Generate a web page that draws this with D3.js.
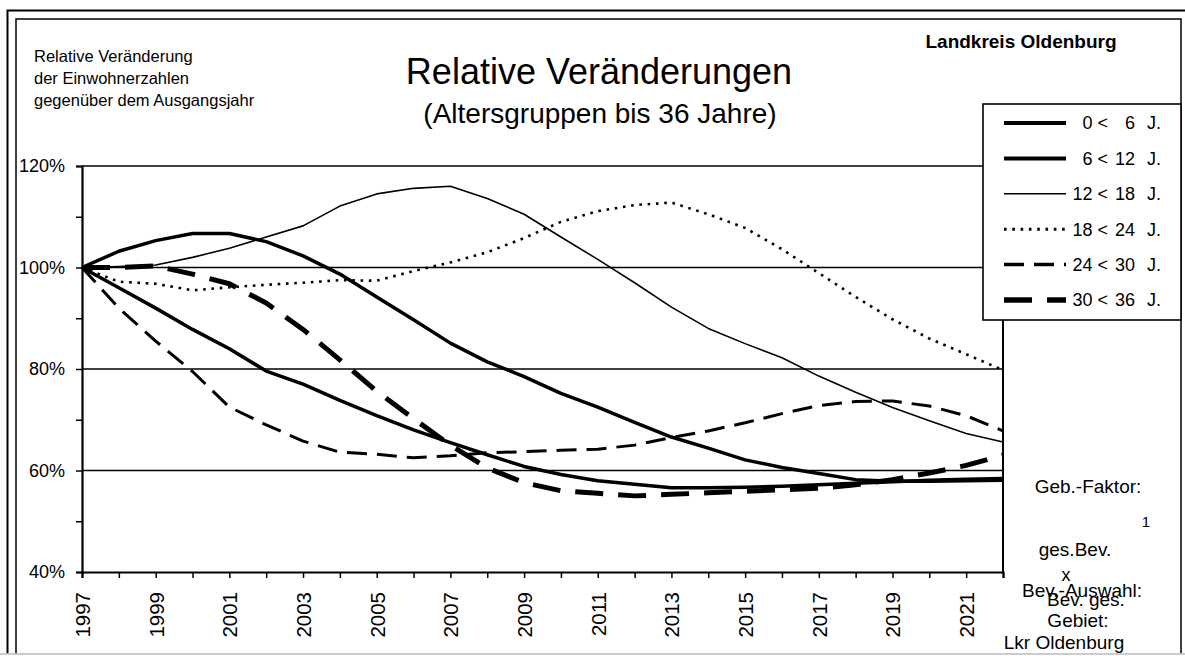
<!DOCTYPE html>
<html>
<head>
<meta charset="utf-8">
<script src="https://cdn.jsdelivr.net/npm/d3@7"></script>
<style>
body { margin: 0; background: #fff; }
text { font-family: "Liberation Sans", Arial, sans-serif; fill: #000; }
</style>
</head>
<body>
<svg width="1185" height="656"></svg>
<script>
// years of the projection
var years = [1997, 1998, 1999, 2000, 2001, 2002, 2003, 2004, 2005, 2006, 2007, 2008, 2009,
             2010, 2011, 2012, 2013, 2014, 2015, 2016, 2017, 2018, 2019, 2020, 2021, 2022];

// relative change in % vs 1997
var age0to6   = [100, 96, 92, 87.8, 84, 79.6, 77, 73.8, 70.8, 68, 65.5, 63.1, 60.8,
                 59.2, 58, 57.3, 56.6, 56.6, 56.7, 56.9, 57.2, 57.5, 57.8, 58.1, 58.3, 58.4];
var age6to12  = [100, 103.2, 105.3, 106.7, 106.7, 105.1, 102.3, 98.7, 94.2, 89.7, 85.1, 81.4, 78.5,
                 75.2, 72.5, 69.5, 66.6, 64.4, 62.1, 60.6, 59.4, 58.2, 57.9, 57.9, 58, 58.1];
var age12to18 = [100, 100.2, 100.5, 102, 103.8, 106, 108.2, 112.1, 114.5, 115.6, 116, 113.6, 110.5,
                 106, 101.6, 97, 92.2, 88, 85, 82.2, 78.6, 75.4, 72.4, 69.8, 67.3, 65.6];
var age18to24 = [100, 97.2, 96.8, 95.5, 96.1, 96.6, 97, 97.5, 97.4, 99.3, 101, 103, 105.8,
                 109, 111.1, 112.3, 112.8, 110.5, 107.8, 103.6, 98.9, 94.2, 89.8, 86, 82.9, 79.8];
var age24to30 = [100, 92, 85.5, 79.5, 72.5, 69, 65.8, 63.6, 63.2, 62.5, 62.9, 63.5, 63.7,
                 64, 64.2, 65, 66.5, 67.8, 69.4, 71.2, 72.8, 73.6, 73.7, 72.7, 70.8, 67.8];
var age30to36 = [100, 100, 100.3, 98.7, 96.8, 93, 87.8, 81.8, 75.6, 70.2, 65, 60.5, 57.6,
                 56, 55.5, 55, 55.3, 55.6, 55.9, 56.2, 56.5, 57.2, 58.2, 59.5, 61, 63];

var groupFrom = [0, 6, 12, 18, 24, 30];
var groupTo   = [6, 12, 18, 24, 30, 36];
var yTicks = [40, 50, 60, 70, 80, 90, 100, 110, 120];
var gridValues = [60, 80, 100, 120];

var series = [age0to6, age6to12, age12to18, age18to24, age24to30, age30to36];
// line look per series (width, dash)
var looks = [
  {w: 3.5, dash: null},
  {w: 3.5, dash: null},
  {w: 1.6, dash: null},
  {w: 2.6, dash: "2.6,5.7"},
  {w: 3, dash: "20,10"},
  {w: 5, dash: "28,15"}
];

var svg = d3.select("svg");
var width = +svg.attr("width"), height = +svg.attr("height");

svg.append("rect").attr("width", width).attr("height", height).attr("fill", "#fff");

// double frame around the chart, cut at right and bottom
svg.append("rect").attr("x", 7.5).attr("y", 10.5).attr("width", 1300).attr("height", 800)
  .attr("fill", "none").attr("stroke", "#000").attr("stroke-width", 2);
svg.append("rect").attr("x", 16).attr("y", 19).attr("width", 1165).attr("height", 800)
  .attr("fill", "none").attr("stroke", "#000").attr("stroke-width", 1.5);

var x = d3.scaleLinear().domain([1997, 2022]).range([82, 1003]);
var y = d3.scaleLinear().domain([40, 120]).range([572, 166]);

// grid lines
svg.append("g").selectAll("line").data(gridValues).enter().append("line")
  .attr("x1", x(1997)).attr("x2", x(2022))
  .attr("y1", function(d) { return y(d); }).attr("y2", function(d) { return y(d); })
  .attr("stroke", "#000").attr("stroke-width", 1.6);

// right border of plot
svg.append("line").attr("x1", x(2022)).attr("x2", x(2022)).attr("y1", y(120)).attr("y2", y(40))
  .attr("stroke", "#000").attr("stroke-width", 2);

// axes
var yAxis = svg.append("g").attr("transform", "translate(" + x(1997) + ",0)")
  .call(d3.axisLeft(y).tickValues(yTicks).tickSizeOuter(0).tickSize(6).tickPadding(11)
    .tickFormat(function(d) { return d % 20 === 0 ? d + "%" : ""; }));
yAxis.select(".domain").attr("stroke-width", 2.2);
yAxis.selectAll(".tick line").attr("stroke-width", 1.5);
yAxis.selectAll("text").attr("font-size", 18).attr("font-family", "Liberation Sans, Arial, sans-serif");

var xAxis = svg.append("g").attr("transform", "translate(0," + y(40) + ")")
  .call(d3.axisBottom(x).tickValues(years).tickSizeOuter(0).tickSize(6)
    .tickFormat(function(d) { return (d - 1997) % 2 === 0 ? d : ""; }));
xAxis.select(".domain").attr("stroke-width", 2.2);
xAxis.selectAll(".tick line").attr("stroke-width", 1.5);
xAxis.selectAll("text")
  .attr("font-size", 20.5).attr("font-family", "Liberation Sans, Arial, sans-serif")
  .attr("transform", "rotate(-90)")
  .attr("text-anchor", "end")
  .attr("x", -20).attr("y", 0).attr("dy", "0.36em");

// lines
var line = d3.line()
  .x(function(d, i) { return x(years[i]); })
  .y(function(d) { return y(d); });

svg.append("g").selectAll("path").data(series).enter().append("path")
  .attr("d", line)
  .attr("fill", "none")
  .attr("stroke", "#000")
  .attr("stroke-linejoin", "round")
  .attr("stroke-width", function(d, i) { return looks[i].w; })
  .attr("stroke-dasharray", function(d, i) { return looks[i].dash; });

// legend
var legend = svg.append("g");
legend.append("rect").attr("x", 983).attr("y", 104).attr("width", 198).attr("height", 216)
  .attr("fill", "#fff").attr("stroke", "#000").attr("stroke-width", 1.6);
var item = legend.selectAll("g.item").data(groupFrom).enter().append("g")
  .attr("class", "item")
  .attr("transform", function(d, i) { return "translate(0," + (123 + i * 35.4) + ")"; });
item.append("line").attr("x1", 1004).attr("x2", 1066).attr("y1", 0).attr("y2", 0)
  .attr("stroke", "#000")
  .attr("stroke-width", function(d, i) { return i === 2 ? 1.4 : looks[i].w + 0.5; })
  .attr("stroke-dasharray", function(d, i) { return looks[i].dash; });
item.append("text").attr("x", 1108).attr("dy", "0.36em").attr("text-anchor", "end")
  .attr("font-size", 18).text(function(d) { return d + " <"; });
item.append("text").attr("x", 1135).attr("dy", "0.36em").attr("text-anchor", "end")
  .attr("font-size", 18).text(function(d, i) { return groupTo[i]; });
item.append("text").attr("x", 1147).attr("dy", "0.36em")
  .attr("font-size", 18).text("J.");

// titles
svg.append("text").attr("x", 599).attr("y", 84).attr("text-anchor", "middle")
  .attr("font-size", 36).text("Relative Veränderungen");
svg.append("text").attr("x", 600).attr("y", 123).attr("text-anchor", "middle")
  .attr("font-size", 28).text("(Altersgruppen bis 36 Jahre)");
svg.append("text").attr("x", 1021).attr("y", 48).attr("text-anchor", "middle")
  .attr("font-size", 19).attr("font-weight", "bold").text("Landkreis Oldenburg");

var note = ["Relative Veränderung", "der Einwohnerzahlen", "gegenüber dem Ausgangsjahr"];
svg.append("g").selectAll("text").data(note).enter().append("text")
  .attr("x", 34).attr("y", function(d, i) { return 62 + i * 22; })
  .attr("font-size", 16.5).text(function(d) { return d; });

// info block bottom right (overlapping labels as in the original)
var info = [
  {t: "Geb.-Faktor:", x: 1088, y: 493, s: 19},
  {t: "1", x: 1146, y: 527, s: 15},
  {t: "ges.Bev.", x: 1075, y: 556, s: 19},
  {t: "x", x: 1066, y: 581, s: 18},
  {t: "Bev.-Auswahl:", x: 1082, y: 597, s: 19},
  {t: "Bev. ges.", x: 1086, y: 606, s: 19},
  {t: "Gebiet:", x: 1078, y: 627, s: 19},
  {t: "Lkr Oldenburg", x: 1064, y: 649, s: 19}
];
svg.append("g").selectAll("text").data(info).enter().append("text")
  .attr("x", function(d) { return d.x; }).attr("y", function(d) { return d.y; })
  .attr("text-anchor", "middle").attr("font-size", function(d) { return d.s; })
  .text(function(d) { return d.t; });

// bottom edge of the window
svg.append("rect").attr("x", 0).attr("y", 653.5).attr("width", width).attr("height", 3).attr("fill", "#fff");
svg.append("line").attr("x1", 0).attr("x2", width).attr("y1", 654).attr("y2", 654)
  .attr("stroke", "#bbb").attr("stroke-width", 1.5);
</script>
</body>
</html>
